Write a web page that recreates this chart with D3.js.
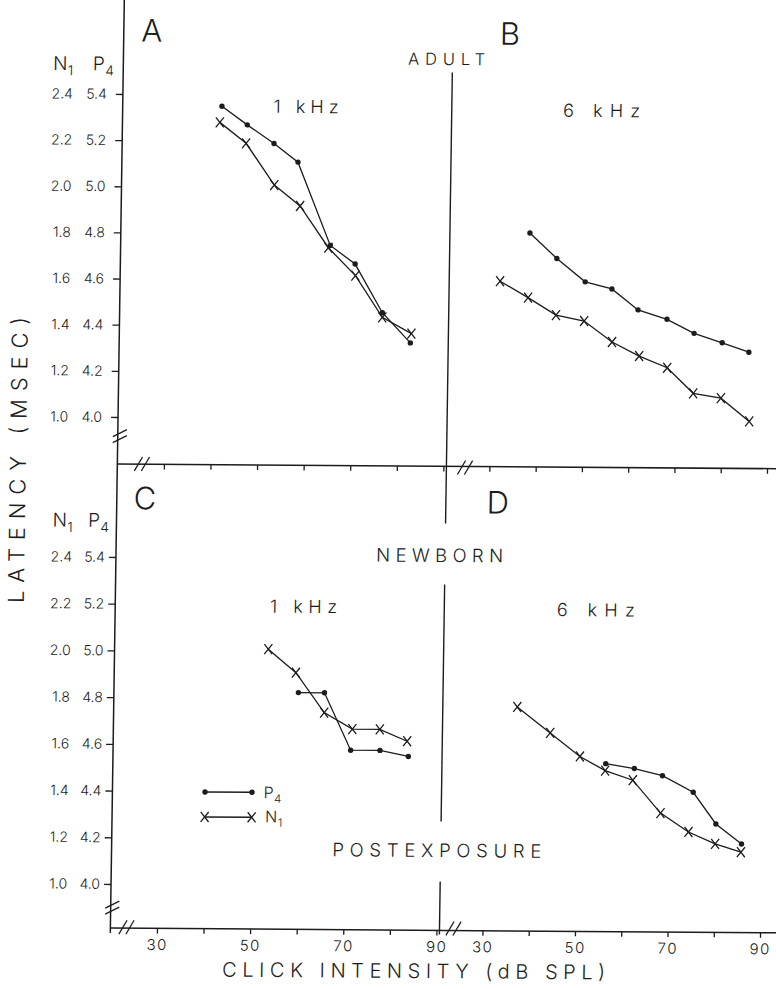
<!DOCTYPE html>
<html><head><meta charset="utf-8">
<script src="https://cdn.jsdelivr.net/npm/d3@7"></script>
<style>
body{margin:0;background:#fff}
svg text{font-family:Inter,"DejaVu Sans",sans-serif;font-weight:300;fill:#1c1c1c}
</style>
</head><body>
<svg id="c" width="776" height="989"></svg>
<script>
// ---------- data (click intensity dB SPL, latency msec) ----------
const dbA_P4  = [41.3, 46.8, 52.6, 57.8, 65.0, 70.4, 76.4, 82.5];
const latA_P4 = [5.35, 5.27, 5.19, 5.11, 4.75, 4.67, 4.46, 4.33];
const dbA_N1  = [40.9, 46.6, 52.8, 58.4, 64.6, 70.5, 76.4, 82.7];
const latA_N1 = [2.28, 2.19, 2.01, 1.92, 1.74, 1.62, 1.44, 1.37];

const dbB_P4  = [38.0, 43.9, 50.1, 55.9, 61.6, 67.9, 73.8, 79.9, 85.7];
const latB_P4 = [4.81, 4.70, 4.60, 4.57, 4.48, 4.44, 4.38, 4.34, 4.30];
const dbB_N1  = [31.7, 37.8, 43.9, 50.0, 56.1, 62.0, 68.1, 73.8, 79.8, 86.0];
const latB_N1 = [1.60, 1.53, 1.455, 1.43, 1.34, 1.28, 1.23, 1.12, 1.10, 1.00];

const dbC_N1  = [53.0, 59.0, 65.2, 71.3, 77.2, 83.1];
const latC_N1 = [2.01, 1.91, 1.74, 1.67, 1.67, 1.62];
const dbC_P4  = [59.6, 65.2, 71.0, 77.3, 83.4];
const latC_P4 = [4.825, 4.825, 4.58, 4.58, 4.555];

const dbD_N1  = [36.8, 44.0, 50.5, 56.0, 62.0, 68.1, 74.2, 80.0, 85.6];
const latD_N1 = [1.77, 1.66, 1.56, 1.50, 1.46, 1.32, 1.24, 1.19, 1.155];
const dbD_P4  = [56.1, 62.3, 68.4, 75.1, 80.1, 85.7];
const latD_P4 = [4.53, 4.51, 4.48, 4.41, 4.275, 4.19];

const n1Ticks = [1.0, 1.2, 1.4, 1.6, 1.8, 2.0, 2.2, 2.4];
const p4Ticks = [4.0, 4.2, 4.4, 4.6, 4.8, 5.0, 5.2, 5.4];
const xTicks  = [30, 40, 50, 60, 70, 80, 90];
const xTickLabels = [30, 50, 70, 90];

// ---------- drawing ----------
const ink = "#1c1c1c";
const svg = d3.select("#c");
svg.append("rect").attr("width",776).attr("height",989).attr("fill","#fff");
// slight scan tilt of the original figure
const g = svg.append("g").attr("transform","matrix(1,0.007,-0.015,1,7.41,-2.72)");

const xL = d3.scaleLinear().domain([30,90]).range([163.5,443]);
const xR = d3.scaleLinear().domain([30,90]).range([489,766.6]);
const yTopN = d3.scaleLinear().domain([1.0,2.4]).range([418.9,95.9]);
const yTopP = d3.scaleLinear().domain([4.0,5.4]).range([418.9,95.9]);
const yBotN = d3.scaleLinear().domain([1.0,2.4]).range([885.9,558.9]);
const yBotP = d3.scaleLinear().domain([4.0,5.4]).range([885.9,558.9]);

const axisX = xL(20);          // left frame line
const divX = 446;              // divider between panels
const midY = 466, botY = 930;

function ln(x1,y1,x2,y2,w){
  g.append("line").attr("x1",x1).attr("y1",y1).attr("x2",x2).attr("y2",y2)
   .attr("stroke",ink).attr("stroke-width",w||1.5);
}
// frame lines
ln(axisX,2,axisX,935);
ln(axisX,midY,800,midY);
ln(axisX,botY,800,botY);
[[72,523],[584,821],[881,934]].forEach(s=>ln(divX,s[0],divX,s[1],1.4));

// break marks
function breakH(cx,cy){ [-3.5,3.5].forEach(o=>ln(cx+o-4,cy+7,cx+o+4,cy-7,1.3)); }
function breakV(cx,cy){ [-3,3].forEach(o=>ln(cx-7,cy+o+3.5,cx+7,cy+o-3.5,1.3)); }
breakH(141.5,465.7); breakH(464.6,467); breakH(133,929); breakH(460,928);
breakV(119,438); breakV(118.5,909.5);

// x axes (ticks)
function xAxis(scale, y, labels){
  const a = d3.axisBottom(scale).tickValues(xTicks).tickSize(5).tickPadding(6)
     .tickFormat(d => labels && xTickLabels.includes(d) ? d : "");
  const ga = g.append("g").attr("transform",`translate(0,${y})`).call(a);
  ga.select(".domain").remove();
  ga.selectAll("line").attr("stroke",ink).attr("stroke-width",1.3);
  ga.selectAll("text").attr("font-size",15).attr("letter-spacing",1.5)
    .attr("fill",ink).style("font-family","Inter, 'DejaVu Sans', sans-serif");
}
xAxis(xL, midY, false); xAxis(xR, midY, false);
xAxis(xL, botY, true);  xAxis(xR, botY, true);

// y axes
function yAxis(scaleP, scaleN, pad, n1End){
  const a = d3.axisLeft(scaleP).tickValues(p4Ticks).tickSize(7).tickPadding(pad)
     .tickFormat(d3.format(".1f"));
  const ga = g.append("g").attr("transform",`translate(${axisX},0)`).call(a);
  ga.select(".domain").remove();
  ga.selectAll("line").attr("stroke",ink).attr("stroke-width",1.3);
  ga.selectAll("text").attr("font-size",14).attr("fill",ink)
    .style("font-family","Inter, 'DejaVu Sans', sans-serif");
  g.append("g").selectAll("text").data(n1Ticks).join("text")
    .attr("x",n1End).attr("y",d=>scaleN(d)).attr("dy","0.35em")
    .attr("text-anchor","end").attr("font-size",14).text(d3.format(".1f"));
}
yAxis(yTopP, yTopN, 9, 67);
yAxis(yBotP, yBotN, 4, 73);

// series
function series(xs, ys, dbs, lats, kind){
  const pts = d3.zip(dbs, lats);
  g.append("path").datum(pts)
   .attr("d", d3.line().x(d=>xs(d[0])).y(d=>ys(d[1])))
   .attr("fill","none").attr("stroke",ink).attr("stroke-width",1.3);
  marks(pts.map(d=>[xs(d[0]), ys(d[1])]), kind);
}
function marks(pts, kind){
  if(kind==="dot"){
    g.append("g").selectAll("circle").data(pts).join("circle")
     .attr("cx",d=>d[0]).attr("cy",d=>d[1]).attr("r",2.7).attr("fill",ink);
  } else {
    g.append("g").selectAll("path").data(pts).join("path")
     .attr("transform",d=>`translate(${d[0]},${d[1]})`)
     .attr("d","M-4,-5L4,5M4,-5L-4,5").attr("stroke",ink).attr("stroke-width",1.3).attr("fill","none");
  }
}
series(xL, yTopP, dbA_P4, latA_P4, "dot");
series(xL, yTopN, dbA_N1, latA_N1, "x");
series(xR, yTopP, dbB_P4, latB_P4, "dot");
series(xR, yTopN, dbB_N1, latB_N1, "x");
series(xL, yBotN, dbC_N1, latC_N1, "x");
series(xL, yBotP, dbC_P4, latC_P4, "dot");
series(xR, yBotN, dbD_N1, latD_N1, "x");
series(xR, yBotP, dbD_P4, latD_P4, "dot");

// texts
function txt(x,y,s,size,opts){
  opts = opts||{};
  const t = g.append("text").attr("x",x).attr("y",y).attr("font-size",size)
    .attr("text-anchor",opts.anchor||"middle").text(s);
  if(opts.len) t.attr("textLength",opts.len).attr("lengthAdjust","spacing");
  return t;
}
txt(145,43.2,"A",31); txt(503,44.1,"B",31);
txt(145,511,"C",31);  txt(498,512.7,"D",31);
txt(440,64.6,"ADULT",16.5,{len:77});
txt(300.3,113.6,"1 kHz",18,{len:65});
txt(595.8,115.5,"6 kHz",18,{len:77});
txt(440.5,561.6,"NEWBORN",18.5,{len:127});
txt(442.2,856.7,"POSTEXPOSURE",18.5,{len:209});
txt(305.3,613.5,"1 kHz",18,{len:67});
txt(597.6,614.9,"6 kHz",18,{len:78});
txt(420.8,977.8,"CLICK INTENSITY (dB SPL)",20,{len:383});

function sub(x,y,main,s,size){
  const t = g.append("text").attr("x",x).attr("y",y).attr("font-size",size).attr("text-anchor","start");
  t.append("tspan").text(main);
  t.append("tspan").attr("dx",0.5).attr("dy",size*0.28).attr("font-size",size*0.72).text(s);
}
sub(46.6,72.3,"N","1",19); sub(86.5,72.3,"P","4",19);
sub(53,528.8,"N","1",19);  sub(88.5,528.8,"P","4",19);

// legend
const legP = [[209.5,793.2],[256.5,793.2]], legN = [[209.5,818.2],[256.5,818.2]];
ln(legP[0][0],legP[0][1],legP[1][0],legP[1][1],1.5); marks(legP,"dot");
ln(legN[0][0],legN[0][1],legN[1][0],legN[1][1],1.5); marks(legN,"x");
sub(268,799,"P","4",16);
sub(270,823,"N","1",16);

// y title
g.append("text").attr("transform","translate(17.5,462.6) rotate(-90)")
  .attr("text-anchor","middle").attr("dy","0.36em").attr("font-size",22)
  .attr("textLength",286).attr("lengthAdjust","spacing").text("LATENCY (MSEC)");
</script>
</body></html>
